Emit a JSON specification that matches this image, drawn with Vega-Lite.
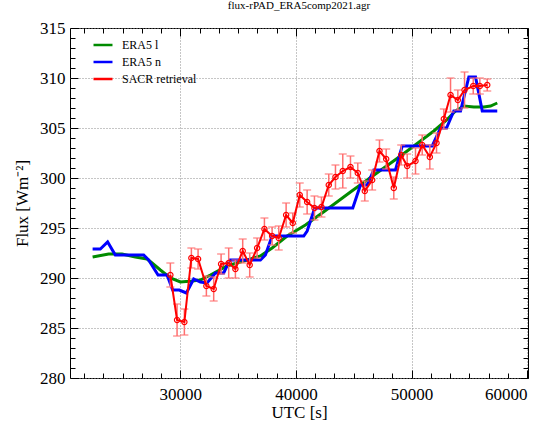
{
  "$schema": "https://vega.github.io/schema/vega-lite/v6.json",
  "width": 458,
  "height": 350,
  "autosize": "none",
  "padding": {"left": 70, "top": 28, "right": 23, "bottom": 44},
  "background": "white",
  "title": {"text": "flux-rPAD_ERA5comp2021.agr", "font": "Liberation Serif", "fontSize": 11, "fontWeight": "normal", "color": "black", "anchor": "middle", "offset": 8},
  "config": {
    "view": {"stroke": "black", "strokeWidth": 1},
    "legend": {"orient": "none", "legendX": 22, "legendY": 6, "padding": 0, "labelFont": "Liberation Serif", "labelFontSize": 12, "labelColor": "black", "symbolType": "stroke", "symbolSize": 360, "symbolStrokeWidth": 2.5, "labelOffset": 8, "rowPadding": 0, "title": null}
  },
  "datasets": {
    "era5l": [
      {"x": 22407, "y": 292.1, "s": "ERA5 l"}, {"x": 23792, "y": 292.4, "s": "ERA5 l"}, {"x": 24952, "y": 292.4, "s": "ERA5 l"},
      {"x": 26104, "y": 292.1, "s": "ERA5 l"}, {"x": 27117, "y": 291.9, "s": "ERA5 l"}, {"x": 27550, "y": 291.5, "s": "ERA5 l"},
      {"x": 28268, "y": 290.8, "s": "ERA5 l"}, {"x": 29134, "y": 290.0, "s": "ERA5 l"}, {"x": 30000, "y": 289.6, "s": "ERA5 l"},
      {"x": 31013, "y": 289.7, "s": "ERA5 l"}, {"x": 31732, "y": 289.8, "s": "ERA5 l"}, {"x": 32597, "y": 290.3, "s": "ERA5 l"},
      {"x": 34043, "y": 291.2, "s": "ERA5 l"}, {"x": 35481, "y": 291.7, "s": "ERA5 l"}, {"x": 36926, "y": 292.2, "s": "ERA5 l"},
      {"x": 37939, "y": 293.0, "s": "ERA5 l"}, {"x": 39238, "y": 294.2, "s": "ERA5 l"}, {"x": 40822, "y": 295.3, "s": "ERA5 l"},
      {"x": 42500, "y": 296.7, "s": "ERA5 l"}, {"x": 44719, "y": 298.6, "s": "ERA5 l"}, {"x": 47000, "y": 300.5, "s": "ERA5 l"},
      {"x": 49048, "y": 302.2, "s": "ERA5 l"}, {"x": 50779, "y": 303.7, "s": "ERA5 l"}, {"x": 51931, "y": 304.7, "s": "ERA5 l"},
      {"x": 52944, "y": 305.7, "s": "ERA5 l"}, {"x": 53810, "y": 306.7, "s": "ERA5 l"}, {"x": 54528, "y": 307.2, "s": "ERA5 l"},
      {"x": 55394, "y": 307.1, "s": "ERA5 l"}, {"x": 56259, "y": 307.1, "s": "ERA5 l"}, {"x": 56840, "y": 307.2, "s": "ERA5 l"},
      {"x": 57420, "y": 307.5, "s": "ERA5 l"}
    ],
    "era5n": [
      {"x": 22407, "y": 292.9, "s": "ERA5 n"}, {"x": 23074, "y": 292.9, "s": "ERA5 n"}, {"x": 23706, "y": 293.6, "s": "ERA5 n"},
      {"x": 24372, "y": 292.3, "s": "ERA5 n"}, {"x": 26823, "y": 292.3, "s": "ERA5 n"}, {"x": 27255, "y": 291.8, "s": "ERA5 n"},
      {"x": 28069, "y": 290.3, "s": "ERA5 n"}, {"x": 28849, "y": 290.3, "s": "ERA5 n"}, {"x": 29333, "y": 288.8, "s": "ERA5 n"},
      {"x": 29913, "y": 288.8, "s": "ERA5 n"}, {"x": 30519, "y": 288.5, "s": "ERA5 n"}, {"x": 31151, "y": 289.9, "s": "ERA5 n"},
      {"x": 31732, "y": 289.6, "s": "ERA5 n"}, {"x": 32312, "y": 289.5, "s": "ERA5 n"}, {"x": 33030, "y": 290.5, "s": "ERA5 n"},
      {"x": 33749, "y": 290.5, "s": "ERA5 n"}, {"x": 34268, "y": 291.8, "s": "ERA5 n"}, {"x": 36926, "y": 291.8, "s": "ERA5 n"},
      {"x": 37359, "y": 292.3, "s": "ERA5 n"}, {"x": 37939, "y": 294.2, "s": "ERA5 n"}, {"x": 40675, "y": 294.2, "s": "ERA5 n"},
      {"x": 40969, "y": 294.7, "s": "ERA5 n"}, {"x": 41628, "y": 297.0, "s": "ERA5 n"}, {"x": 44918, "y": 297.0, "s": "ERA5 n"},
      {"x": 45584, "y": 299.3, "s": "ERA5 n"}, {"x": 46164, "y": 299.3, "s": "ERA5 n"}, {"x": 46736, "y": 300.8, "s": "ERA5 n"},
      {"x": 48614, "y": 300.8, "s": "ERA5 n"}, {"x": 49195, "y": 303.2, "s": "ERA5 n"}, {"x": 51793, "y": 303.2, "s": "ERA5 n"},
      {"x": 52511, "y": 305.0, "s": "ERA5 n"}, {"x": 53030, "y": 305.0, "s": "ERA5 n"}, {"x": 53663, "y": 306.7, "s": "ERA5 n"},
      {"x": 54242, "y": 306.7, "s": "ERA5 n"}, {"x": 54961, "y": 310.1, "s": "ERA5 n"}, {"x": 55541, "y": 310.1, "s": "ERA5 n"},
      {"x": 56121, "y": 306.7, "s": "ERA5 n"}, {"x": 57420, "y": 306.7, "s": "ERA5 n"}
    ],
    "sacr": [
      {"x": 29134, "y": 290.3, "e": 1.2, "s": "SACR retrieval"}, {"x": 29714, "y": 285.8, "e": 1.6, "s": "SACR retrieval"},
      {"x": 30346, "y": 285.6, "e": 1.3, "s": "SACR retrieval"}, {"x": 30952, "y": 292.0, "e": 1.0, "s": "SACR retrieval"},
      {"x": 31532, "y": 291.9, "e": 1.0, "s": "SACR retrieval"}, {"x": 32251, "y": 289.2, "e": 1.0, "s": "SACR retrieval"},
      {"x": 32883, "y": 288.9, "e": 1.2, "s": "SACR retrieval"}, {"x": 33524, "y": 291.4, "e": 1.0, "s": "SACR retrieval"},
      {"x": 34182, "y": 291.5, "e": 1.5, "s": "SACR retrieval"}, {"x": 34762, "y": 290.9, "e": 0.9, "s": "SACR retrieval"},
      {"x": 35394, "y": 292.7, "e": 1.2, "s": "SACR retrieval"}, {"x": 35999, "y": 291.3, "e": 1.2, "s": "SACR retrieval"},
      {"x": 36641, "y": 293.0, "e": 1.0, "s": "SACR retrieval"}, {"x": 37273, "y": 294.9, "e": 1.1, "s": "SACR retrieval"},
      {"x": 37939, "y": 294.2, "e": 0.9, "s": "SACR retrieval"}, {"x": 38511, "y": 294.0, "e": 1.2, "s": "SACR retrieval"},
      {"x": 39151, "y": 296.3, "e": 1.2, "s": "SACR retrieval"}, {"x": 39723, "y": 295.5, "e": 1.0, "s": "SACR retrieval"},
      {"x": 40329, "y": 298.3, "e": 1.2, "s": "SACR retrieval"}, {"x": 40969, "y": 297.6, "e": 1.2, "s": "SACR retrieval"},
      {"x": 41602, "y": 297.0, "e": 1.2, "s": "SACR retrieval"}, {"x": 42208, "y": 297.1, "e": 1.0, "s": "SACR retrieval"},
      {"x": 42840, "y": 299.3, "e": 1.1, "s": "SACR retrieval"}, {"x": 43420, "y": 300.1, "e": 1.2, "s": "SACR retrieval"},
      {"x": 44052, "y": 300.7, "e": 1.7, "s": "SACR retrieval"}, {"x": 44719, "y": 301.1, "e": 1.1, "s": "SACR retrieval"},
      {"x": 45351, "y": 300.5, "e": 1.0, "s": "SACR retrieval"}, {"x": 45957, "y": 298.7, "e": 1.0, "s": "SACR retrieval"},
      {"x": 46597, "y": 299.8, "e": 1.0, "s": "SACR retrieval"}, {"x": 47229, "y": 302.7, "e": 1.1, "s": "SACR retrieval"},
      {"x": 47809, "y": 301.9, "e": 1.0, "s": "SACR retrieval"}, {"x": 48467, "y": 299.0, "e": 1.1, "s": "SACR retrieval"},
      {"x": 49108, "y": 302.3, "e": 1.0, "s": "SACR retrieval"}, {"x": 49628, "y": 301.2, "e": 1.2, "s": "SACR retrieval"},
      {"x": 50346, "y": 301.7, "e": 1.3, "s": "SACR retrieval"}, {"x": 50927, "y": 303.3, "e": 1.0, "s": "SACR retrieval"},
      {"x": 51585, "y": 302.1, "e": 1.2, "s": "SACR retrieval"}, {"x": 52165, "y": 303.5, "e": 1.0, "s": "SACR retrieval"},
      {"x": 52797, "y": 305.9, "e": 1.0, "s": "SACR retrieval"}, {"x": 53377, "y": 308.3, "e": 1.7, "s": "SACR retrieval"},
      {"x": 54009, "y": 307.8, "e": 1.0, "s": "SACR retrieval"}, {"x": 54589, "y": 308.8, "e": 1.8, "s": "SACR retrieval"},
      {"x": 55342, "y": 309.2, "e": 0.8, "s": "SACR retrieval"}, {"x": 55913, "y": 309.2, "e": 0.8, "s": "SACR retrieval"},
      {"x": 56554, "y": 309.3, "e": 0.6, "s": "SACR retrieval"}
    ]
  },
  "resolve": {"axis": {"x": "independent", "y": "independent"}},
  "layer": [
    {
      "data": {"name": "era5l"},
      "mark": {"type": "line", "strokeWidth": 3},
      "encoding": {
        "x": {"field": "x", "type": "quantitative", "scale": {"domain": [20450, 60080], "nice": false, "zero": false},
          "axis": {"title": "UTC [s]", "values": [30000, 40000, 50000, 60000], "format": "d", "ticks": false, "domain": false,
            "grid": true, "gridColor": "#8c8c8c", "gridDash": [1, 2], "gridWidth": 1,
            "labelFont": "Liberation Serif", "labelFontSize": 17, "labelColor": "black", "labelPadding": 8,
            "titleFont": "Liberation Serif", "titleFontSize": 17, "titleFontWeight": "normal", "titleColor": "black", "titlePadding": 2}},
        "y": {"field": "y", "type": "quantitative", "scale": {"domain": [280, 315], "nice": false, "zero": false},
          "axis": {"title": "Flux [Wm⁻²]", "values": [280, 285, 290, 295, 300, 305, 310, 315], "ticks": false, "domain": false,
            "grid": true, "gridColor": "#8c8c8c", "gridDash": [1, 2], "gridWidth": 1,
            "labelFont": "Liberation Serif", "labelFontSize": 17, "labelColor": "black", "labelPadding": 5,
            "titleFont": "Liberation Serif", "titleFontSize": 17, "titleFontWeight": "normal", "titleColor": "black", "titlePadding": 8}},
        "color": {"field": "s", "type": "nominal", "scale": {"domain": ["ERA5 l", "ERA5 n", "SACR retrieval"], "range": ["#008b00", "#0000ff", "#ff0000"]}}
      }
    },
    {
      "data": {"name": "era5n"},
      "mark": {"type": "line", "strokeWidth": 3},
      "encoding": {
        "x": {"field": "x", "type": "quantitative", "scale": {"domain": [20450, 60080], "nice": false, "zero": false},
          "axis": {"orient": "top", "offset": -350, "title": null, "labels": false, "domain": false, "grid": false,
            "values": [21666.667, 23333.333, 25000, 26666.667, 28333.333, 30000, 31666.667, 33333.333, 35000, 36666.667, 38333.333, 40000, 41666.667, 43333.333, 45000, 46666.667, 48333.333, 50000, 51666.667, 53333.333, 55000, 56666.667, 58333.333, 60000],
            "tickColor": "black", "tickWidth": 1, "tickSize": {"condition": {"test": "abs(datum.value % 10000) < 1", "value": 8}, "value": 5}}},
        "y": {"field": "y", "type": "quantitative", "scale": {"domain": [280, 315], "nice": false, "zero": false},
          "axis": {"orient": "right", "offset": -458, "title": null, "labels": false, "domain": false, "grid": false,
            "values": [280, 281, 282, 283, 284, 285, 286, 287, 288, 289, 290, 291, 292, 293, 294, 295, 296, 297, 298, 299, 300, 301, 302, 303, 304, 305, 306, 307, 308, 309, 310, 311, 312, 313, 314, 315],
            "tickColor": "black", "tickWidth": 1, "tickSize": {"condition": {"test": "datum.value % 5 === 0", "value": 8}, "value": 5}}},
        "color": {"field": "s", "type": "nominal", "scale": {"domain": ["ERA5 l", "ERA5 n", "SACR retrieval"], "range": ["#008b00", "#0000ff", "#ff0000"]}}
      }
    },
    {
      "data": {"name": "sacr"},
      "mark": {"type": "errorbar", "ticks": {"size": 8}, "color": "#ff6f6f", "thickness": 1.5},
      "encoding": {
        "x": {"field": "x", "type": "quantitative", "scale": {"domain": [20450, 60080], "nice": false, "zero": false}, "axis": null},
        "y": {"field": "y", "type": "quantitative", "scale": {"domain": [280, 315], "nice": false, "zero": false}, "axis": null},
        "yError": {"field": "e"}
      }
    },
    {
      "data": {"name": "sacr"},
      "mark": {"type": "line", "strokeWidth": 2},
      "encoding": {
        "x": {"field": "x", "type": "quantitative", "scale": {"domain": [20450, 60080], "nice": false, "zero": false},
          "axis": {"orient": "bottom", "offset": -350, "title": null, "labels": false, "domain": false, "grid": false,
            "values": [21666.667, 23333.333, 25000, 26666.667, 28333.333, 30000, 31666.667, 33333.333, 35000, 36666.667, 38333.333, 40000, 41666.667, 43333.333, 45000, 46666.667, 48333.333, 50000, 51666.667, 53333.333, 55000, 56666.667, 58333.333, 60000],
            "tickColor": "black", "tickWidth": 1, "tickSize": {"condition": {"test": "abs(datum.value % 10000) < 1", "value": 8}, "value": 5}}},
        "y": {"field": "y", "type": "quantitative", "scale": {"domain": [280, 315], "nice": false, "zero": false},
          "axis": {"orient": "left", "offset": -458, "title": null, "labels": false, "domain": false, "grid": false,
            "values": [280, 281, 282, 283, 284, 285, 286, 287, 288, 289, 290, 291, 292, 293, 294, 295, 296, 297, 298, 299, 300, 301, 302, 303, 304, 305, 306, 307, 308, 309, 310, 311, 312, 313, 314, 315],
            "tickColor": "black", "tickWidth": 1, "tickSize": {"condition": {"test": "datum.value % 5 === 0", "value": 8}, "value": 5}}},
        "color": {"field": "s", "type": "nominal", "scale": {"domain": ["ERA5 l", "ERA5 n", "SACR retrieval"], "range": ["#008b00", "#0000ff", "#ff0000"]}}
      }
    },
    {
      "data": {"name": "sacr"},
      "mark": {"type": "point", "shape": "circle", "filled": false, "size": 28, "strokeWidth": 1.2, "color": "#ff0000", "opacity": 1},
      "encoding": {
        "x": {"field": "x", "type": "quantitative", "scale": {"domain": [20450, 60080], "nice": false, "zero": false}, "axis": null},
        "y": {"field": "y", "type": "quantitative", "scale": {"domain": [280, 315], "nice": false, "zero": false}, "axis": null}
      }
    }
  ]
}
